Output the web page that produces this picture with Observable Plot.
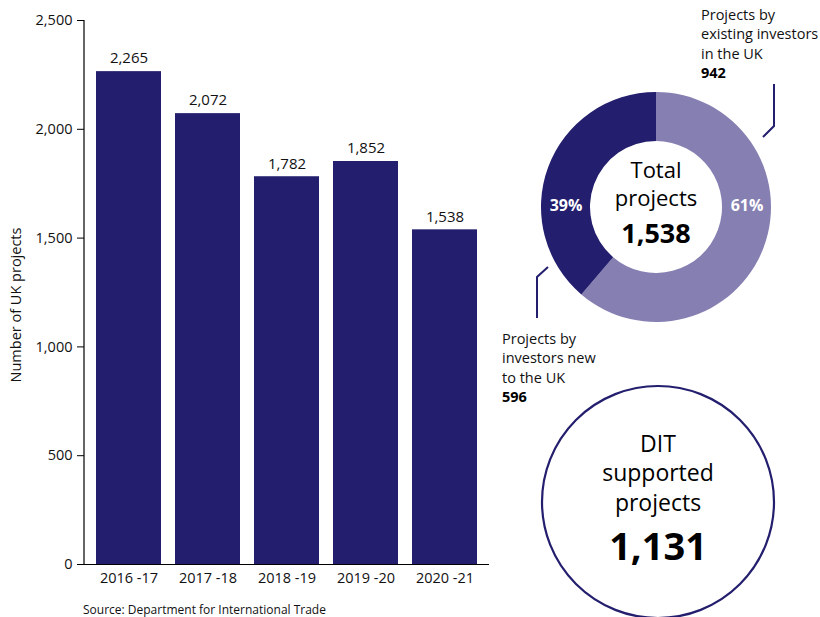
<!DOCTYPE html>
<html>
<head>
<meta charset="utf-8">
<script src="https://cdn.jsdelivr.net/npm/d3@7"></script>
<script src="https://cdn.jsdelivr.net/npm/@observablehq/plot@0.6"></script>
<style>
  html, body { margin: 0; padding: 0; background: #fff; }
  svg { display: block; }
</style>
</head>
<body>
<div id="chart"></div>
<script>
// ---- data ----
const years = ["2016 -17", "2017 -18", "2018 -19", "2019 -20", "2020 -21"];
const projects = [2265, 2072, 1782, 1852, 1538];
const yTicks = [0, 500, 1000, 1500, 2000, 2500];
const shareNames = [["Projects by", "existing investors", "in the UK"], ["Projects by", "investors new", "to the UK"]];
const shareValues = [942, 596];
const sharePct = ["61%", "39%"];
const totalProjects = 1538;
const ditSupported = 1131;
const source = "Source: Department for International Trade";

const NAVY = "#231e6d";
const LIGHT = "#857fb2";
const FONT = "'Open Sans', 'Noto Sans', sans-serif";

const table = years.map((y, i) => ({year: y, value: projects[i]}));
const fmt = d3.format(",d");

const svg = Plot.plot({
  width: 820,
  height: 617,
  marginLeft: 84,
  marginRight: 331,
  marginTop: 20,
  marginBottom: 53,
  style: {fontFamily: FONT, fontSize: "14px", color: "#000", background: "#fff"},
  x: {domain: years, paddingInner: 0.18, paddingOuter: 0.15},
  y: {domain: [0, 2500]},
  marks: [
    Plot.barY(table, {x: "year", y: "value", fill: NAVY}),
    Plot.axisY({ticks: yTicks, tickFormat: fmt, label: null, tickSize: 7, tickPadding: 5, fontSize: 14.5, fill: "#111", stroke: "#000"}),
    Plot.axisX({label: null, tickSize: 0, tickPadding: 8, fontSize: 14.5, fill: "#111"}),
    Plot.ruleY([0], {stroke: "#000", strokeWidth: 1.2}),
    Plot.text(table, {x: "year", y: "value", text: d => fmt(d.value), dy: -13, fontSize: 15, fill: "#111"})
  ]
});

document.getElementById("chart").appendChild(svg);
const root = d3.select(svg);
const ys = svg.scale("y");

// y axis line (through the y scale)
root.append("line")
  .attr("x1", 84).attr("x2", 84)
  .attr("y1", ys.apply(0)).attr("y2", ys.apply(2500))
  .attr("stroke", "#000").attr("stroke-width", 1.2);

// y axis title
root.append("text")
  .attr("transform", "translate(17,305) rotate(-90)")
  .attr("text-anchor", "middle").attr("dominant-baseline", "middle")
  .style("font-size", "14.5px").style("font-family", FONT).attr("fill", "#111")
  .text("Number of UK projects");

// source
root.append("text")
  .attr("x", 83).attr("y", 614)
  .attr("text-anchor", "start")
  .style("font-size", "12px").style("font-family", FONT).attr("fill", "#111")
  .text(source);

// ---- donut ----
const cx = 656, cy = 207, R = 115, r = 66;
const pie = d3.pie().sort(null).value(d => d)(shareValues);
const arc = d3.arc().innerRadius(r).outerRadius(R);
const dg = root.append("g").attr("transform", `translate(${cx},${cy})`);
dg.selectAll("path").data(pie).join("path")
  .attr("d", arc)
  .attr("fill", (d, i) => i === 0 ? LIGHT : NAVY);

// percentage labels (right for first slice, left for second)
dg.selectAll("text.pct").data(pie).join("text")
  .attr("x", (d, i) => i === 0 ? 91 : -90)
  .attr("y", 0)
  .attr("text-anchor", "middle").attr("dominant-baseline", "middle")
  .attr("fill", "#fff").style("font-weight", "bold").style("font-size", "16px").style("font-family", FONT)
  .text((d, i) => sharePct[i]);

// center text
const ct = [["Total", -35, 22, "normal"], ["projects", -7, 22, "normal"], [fmt(totalProjects), 29, 27, "bold"]];
dg.selectAll("text.c").data(ct).join("text")
  .attr("x", 0).attr("y", d => d[1])
  .attr("text-anchor", "middle").attr("dominant-baseline", "middle")
  .attr("fill", "#000").style("font-size", d => d[2] + "px").style("font-weight", d => d[3]).style("font-family", FONT)
  .text(d => d[0]);

// leader lines
root.append("path").attr("d", "M763,137 L774,126 L774,84").attr("fill", "none").attr("stroke", NAVY).attr("stroke-width", 2);
root.append("path").attr("d", "M548,267 L537,277 L537,318").attr("fill", "none").attr("stroke", NAVY).attr("stroke-width", 2);

// slice annotations
function annot(x, y0, lines, value) {
  const g = root.append("g").style("font-family", FONT).style("font-size", "14.5px").attr("text-anchor", "start");
  lines.forEach((t, i) => {
    g.append("text").attr("x", x).attr("y", y0 + i * 19.5).attr("dominant-baseline", "middle").attr("fill", "#111").text(t);
  });
  g.append("text").attr("x", x).attr("y", y0 + lines.length * 19.5).attr("dominant-baseline", "middle")
    .attr("fill", "#000").style("font-weight", "bold").text(fmt(value));
}
annot(701, 16, shareNames[0], shareValues[0]);
annot(502, 340, shareNames[1], shareValues[1]);

// ---- DIT supported circle ----
const dx = 658, dy = 502, dr = 116;
root.append("circle").attr("cx", dx).attr("cy", dy).attr("r", dr)
  .attr("fill", "none").attr("stroke", NAVY).attr("stroke-width", 2.2);
const dt = [["DIT", 446, 23, "normal"], ["supported", 475, 23, "normal"], ["projects", 505, 23, "normal"], [fmt(ditSupported), 550, 38, "bold"]];
root.selectAll("text.dit").data(dt).join("text")
  .attr("x", dx).attr("y", d => d[1])
  .attr("text-anchor", "middle").attr("dominant-baseline", "middle")
  .attr("fill", "#000").style("font-size", d => d[2] + "px").style("font-weight", d => d[3]).style("font-family", FONT)
  .text(d => d[0]);
</script>
</body>
</html>
